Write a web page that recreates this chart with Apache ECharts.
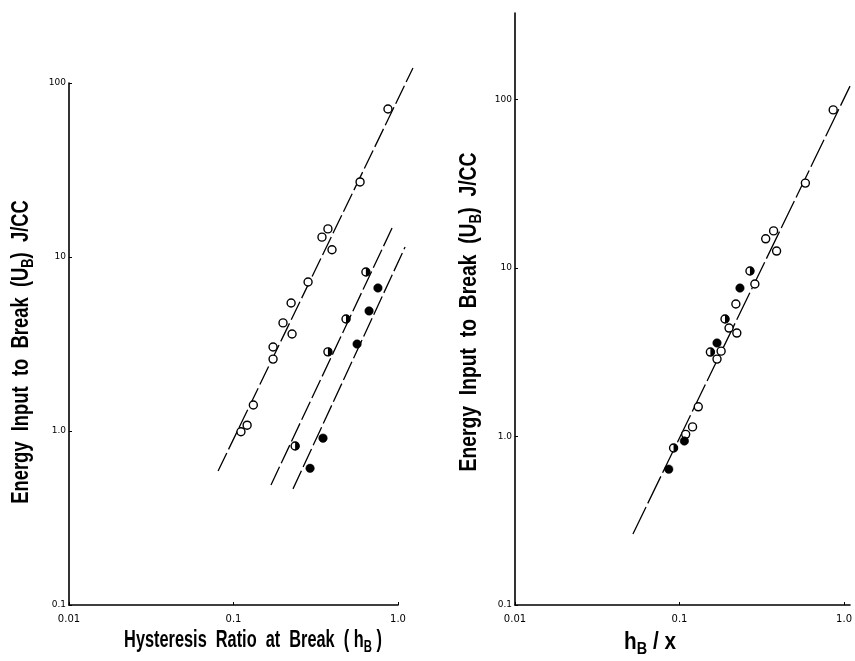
<!DOCTYPE html>
<html>
<head>
<meta charset="utf-8">
<script src="https://cdn.jsdelivr.net/npm/echarts@6/dist/echarts.min.js"></script>
<style>html,body{margin:0;padding:0;background:#fff}#c{width:855px;height:661px}</style>
</head>
<body>
<div id="c"></div>
<script>
// ---- data ----
// Left panel: U_B vs h_B
const leftOpen = [[0.869,70.9],[0.588,27.0],[0.375,14.5],[0.345,13.0],[0.397,11.0],[0.284,7.18],[0.224,5.44],[0.200,4.18],[0.227,3.61],[0.174,3.04],[0.174,2.59],[0.132,1.41],[0.121,1.08],[0.111,0.99]];
const leftHalf = [[0.638,8.20],[0.483,4.40],[0.375,2.85],[0.237,0.82]];
const leftFilled = [[0.755,6.64],[0.667,4.90],[0.564,3.16],[0.350,0.91],[0.292,0.61]];
const leftLineOpen = [[0.0806,0.589],[1.233,122]];
const leftLineHalf = [[0.169,0.49],[0.921,14.7]];
const leftLineFilled = [[0.230,0.465],[1.104,11.4]];
// Right panel: U_B vs h_B / x
const rightOpen = [[0.859,86.7],[0.582,31.9],[0.373,16.6],[0.334,14.9],[0.389,12.6],[0.287,8.04],[0.220,6.11],[0.200,4.40],[0.223,4.11],[0.179,3.21],[0.169,2.88],[0.130,1.50],[0.120,1.14],[0.109,1.03]];
const rightHalf = [[0.268,9.59],[0.189,4.98],[0.154,3.17],[0.092,0.855]];
const rightFilled = [[0.233,7.60],[0.169,3.59],[0.107,0.94],[0.086,0.64]];
const rightLine = [[0.0521,0.264],[1.087,120]];
// tick labels
const xTicks = [0.01, 0.1, 1];
const xTickLabels = {0.01:'0.01', 0.1:'0.1', 1:'1.0'};
const yTicks = [0.1, 1, 10, 100];
const yTickLabels = {0.1:'0.1', 1:'1.0', 10:'10', 100:'100'};
// titles
const yTitle = '{t|Energy  Input  to  Break  (U}{s|B}{t|)  J/CC}';
const xTitleLeft = '{t|Hysteresis  Ratio  at  Break  ( h}{s|B}{t| )}';
const xTitleRight = '{t|h}{s|B}{t| / x}';

const TITLE_FONT = "'Liberation Sans','Arial',sans-serif";
const richT = {
  t: {fontFamily: TITLE_FONT, fontWeight: 'bold', fontSize: 23, fill: '#000', lineHeight: 28},
  s: {fontFamily: TITLE_FONT, fontWeight: 'bold', fontSize: 16, fill: '#000', lineHeight: 28, padding: [13,0,0,0]}
};
const labelStyle = {fontFamily: "'DejaVu Sans',sans-serif", fontSize: 10, color: '#000'};

function xAxisDef(gridIndex, max) {
  return {
    type: 'log', logBase: 10, gridIndex, min: 0.01, max,
    axisLine: {show: true, lineStyle: {color: '#000', width: 1.6}},
    axisTick: {show: true, inside: true, length: 3, lineStyle: {color: '#000'}, customValues: xTicks},
    axisLabel: {...labelStyle, margin: 9, customValues: xTicks, formatter: v => xTickLabels[v] !== undefined ? xTickLabels[v] : ''},
    splitLine: {show: false}, minorTick: {show: false}
  };
}
function yAxisDef(gridIndex, max) {
  return {
    type: 'log', logBase: 10, gridIndex, min: 0.1, max,
    axisLine: {show: true, lineStyle: {color: '#000', width: 1.6}},
    axisTick: {show: true, inside: true, length: 3, lineStyle: {color: '#000'}, customValues: yTicks},
    axisLabel: {...labelStyle, fontSize: 9, margin: 3, customValues: yTicks, formatter: v => yTickLabels[v] !== undefined ? yTickLabels[v] : ''},
    splitLine: {show: false}, minorTick: {show: false}
  };
}
// hidden axes with the same pixel scale as the left panel but a wider range, so fit lines can run past the frame
const hiddenX = {type: 'log', logBase: 10, gridIndex: 2, min: 0.01, max: Math.pow(10, 0.15), show: false};
const hiddenY = {type: 'log', logBase: 10, gridIndex: 2, min: 0.1, max: Math.pow(10, 2.2), show: false};

function lineSeries(idx, data, dash) {
  return {type: 'line', xAxisIndex: idx, yAxisIndex: idx, data, symbol: 'none', silent: true,
    lineStyle: {color: '#000', width: 1.3, type: dash}, z: 1};
}
function openSeries(idx, data) {
  return {type: 'scatter', xAxisIndex: idx, yAxisIndex: idx, data, symbol: 'circle', symbolSize: 8, clip: false,
    itemStyle: {color: '#fff', borderColor: '#000', borderWidth: 1.4, opacity: 1}, z: 3};
}
function filledSeries(idx, data) {
  return {type: 'scatter', xAxisIndex: idx, yAxisIndex: idx, data, symbol: 'circle', symbolSize: 8.5, clip: false,
    itemStyle: {color: '#000', borderColor: '#000', borderWidth: 0.5, opacity: 1}, z: 3};
}
function halfSeries(idx, data) {
  return [
    openSeries(idx, data),
    {type: 'scatter', xAxisIndex: idx, yAxisIndex: idx, data, symbol: 'path://M0,-1 A1,1 0 0,1 0,1 Z',
      symbolSize: [4.3, 8.6], symbolOffset: [2.15, 0], clip: false,
      itemStyle: {color: '#000', opacity: 1}, z: 4}
  ];
}
function titleText(text, x, y, rot, sx) {
  return {type: 'text', x, y, rotation: rot, scaleX: sx, scaleY: 1, silent: true,
    style: {text, rich: richT, x: 0, y: 0, align: 'center', verticalAlign: 'middle',
      fontFamily: TITLE_FONT, fontWeight: 'bold', fontSize: 23, fill: '#000'}};
}

const chart = echarts.init(document.getElementById('c'), null, {renderer: 'canvas'});
chart.setOption({
  backgroundColor: '#fff',
  animation: false,
  grid: [
    {left: 69, right: 457, top: 83, bottom: 56},
    {left: 515, right: 2, top: 13, bottom: 56},
    {left: 69, right: 855 - 69 - 2.15 * 164.5, top: 661 - 56 - 3.2 * 174, bottom: 56}
  ],
  xAxis: [xAxisDef(0, 1), xAxisDef(1, 1.087), hiddenX],
  yAxis: [yAxisDef(0, 100), yAxisDef(1, 326), hiddenY],
  graphic: [
    titleText(yTitle, 22, 352, Math.PI / 2, 0.8),
    titleText(yTitle, 470, 312, Math.PI / 2, 0.84),
    titleText(xTitleLeft, 253, 641, 0, 0.71),
    titleText(xTitleRight, 650, 643, 0, 0.9)
  ],
  series: [
    lineSeries(2, leftLineOpen, [20,4]),
    lineSeries(2, leftLineHalf, [20,4]),
    lineSeries(2, leftLineFilled, [20,4]),
    openSeries(0, leftOpen),
    ...halfSeries(0, leftHalf),
    filledSeries(0, leftFilled),
    lineSeries(1, rightLine, [30,4]),
    openSeries(1, rightOpen),
    ...halfSeries(1, rightHalf),
    filledSeries(1, rightFilled)
  ]
});
</script>
</body>
</html>
